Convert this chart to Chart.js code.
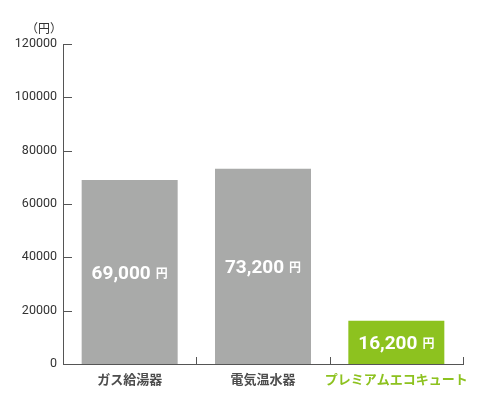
<!DOCTYPE html>
<html lang="ja">
<head>
<meta charset="utf-8">
<script src="https://cdn.jsdelivr.net/npm/chart.js@4"></script>
<style>
  html, body { margin: 0; padding: 0; background: #fff; }
  #wrap { width: 480px; height: 400px; }
</style>
</head>
<body>
<div id="wrap"><canvas id="cost"></canvas></div>
<script>
// 年間給湯費比較
const categories = ['ガス給湯器', '電気温水器', 'プレミアムエコキュート'];
const costs = [69000, 73200, 16200];
const yTicks = [0, 20000, 40000, 60000, 80000, 100000, 120000];
const unitLabel = '（円）';

const GRAY = '#a9aaa9';
const GREEN = '#8dc21f';
const barColors = [GRAY, GRAY, GREEN];
const labelColors = ['#4d4d4d', '#4d4d4d', GREEN];
const AXIS = '#555';
const JP = "'Noto Sans CJK JP', 'Noto Sans', sans-serif";

// 内向きの目盛り・単位・棒内の金額
const decor = {
  id: 'decor',
  afterDraw(chart) {
    const { ctx, chartArea: a } = chart;
    const y = chart.scales.y, x = chart.scales.x;
    ctx.save();
    ctx.strokeStyle = AXIS;
    ctx.lineWidth = 1;
    y.ticks.forEach((t, i) => {
      const py = Math.round(y.getPixelForTick(i)) + 0.5;
      ctx.beginPath();
      ctx.moveTo(a.left, py);
      ctx.lineTo(a.left + 9, py);
      ctx.stroke();
    });
    for (let i = 1; i <= categories.length; i++) {
      const px = Math.round(x.getPixelForValue(i - 0.5)) + 0.5;
      ctx.beginPath();
      ctx.moveTo(px, a.bottom);
      ctx.lineTo(px, a.bottom - 7);
      ctx.stroke();
    }
    // 単位
    ctx.fillStyle = '#333';
    ctx.font = '12px ' + JP;
    ctx.textAlign = 'right';
    ctx.textBaseline = 'middle';
    ctx.fillText(unitLabel, a.left - 1, a.top - 16);

    // 金額ラベル
    const meta = chart.getDatasetMeta(0);
    meta.data.forEach((bar, i) => {
      const num = costs[i].toLocaleString('en-US');
      const cy = (bar.y + bar.base) / 2;
      ctx.font = 'bold 19px Roboto, sans-serif';
      const w1 = ctx.measureText(num).width;
      ctx.font = 'bold 12px ' + JP;
      const w2 = ctx.measureText('円').width;
      const gap = 5;
      let sx = bar.x - (w1 + gap + w2) / 2;
      ctx.fillStyle = '#fff';
      ctx.textAlign = 'left';
      ctx.textBaseline = 'alphabetic';
      ctx.font = 'bold 19px Roboto, sans-serif';
      ctx.fillText(num, sx, cy + 7);
      ctx.font = 'bold 12px ' + JP;
      ctx.fillText('円', sx + w1 + gap, cy + 6);
    });
    ctx.restore();
  },
};

new Chart(document.getElementById('cost'), {
  type: 'bar',
  data: {
    labels: categories,
    datasets: [{
      data: costs,
      backgroundColor: barColors,
      borderWidth: 0,
      barPercentage: 0.72,
      categoryPercentage: 1,
    }],
  },
  options: {
    responsive: true,
    maintainAspectRatio: false,
    animation: false,
    layout: { padding: { top: 44, right: 17, left: 0, bottom: 0 } },
    scales: {
      y: {
        min: 0,
        max: 120000,
        afterBuildTicks: s => { s.ticks = yTicks.map(v => ({ value: v })); },
        afterFit: s => { s.width = 63; },
        grid: { display: false, drawTicks: false },
        border: { display: true, color: AXIS, width: 1 },
        ticks: {
          color: '#333',
          padding: 6,
          font: { family: 'Roboto, sans-serif', size: 12.5 },
          callback: v => String(v),
        },
      },
      x: {
        afterFit: s => { s.height = 36; },
        grid: { display: false, drawTicks: false },
        border: { display: true, color: AXIS, width: 1 },
        ticks: {
          color: labelColors,
          padding: 7,
          maxRotation: 0,
          minRotation: 0,
          autoSkip: false,
          font: { family: JP, size: 13, weight: 'bold' },
        },
      },
    },
    plugins: {
      legend: { display: false },
      tooltip: { enabled: false },
    },
  },
  plugins: [decor],
});
</script>
</body>
</html>
